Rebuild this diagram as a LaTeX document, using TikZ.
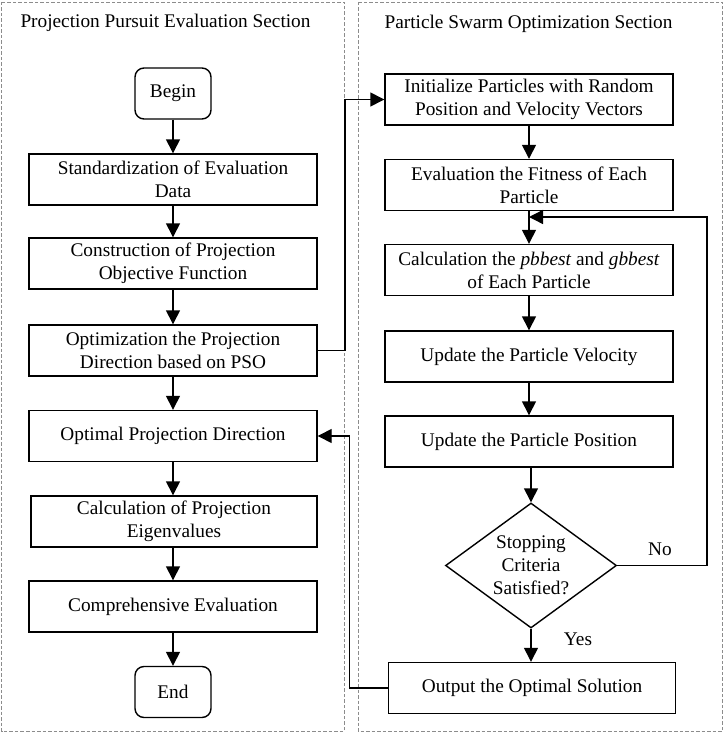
\documentclass[tikz,border=0pt]{standalone}
\usepackage{fontspec}
\setmainfont{Liberation Serif}
\usetikzlibrary{arrows.meta,shapes.geometric}
\begin{document}
\begin{tikzpicture}[x=1pt,y=-1pt,
  font=\fontsize{19.3pt}{23pt}\selectfont,
  frame/.style={draw=black!45,dashed,dash pattern=on 3.5pt off 2pt,line width=0.8pt},
  box/.style={draw,line width=1.4pt,minimum width=288pt,minimum height=51pt,inner sep=0pt,align=center},
  term/.style={draw,line width=1.4pt,rounded corners=9pt,minimum width=76pt,minimum height=51pt,inner sep=0pt},
  dec/.style={draw,line width=1.4pt,diamond,aspect=1.37,minimum width=171pt,minimum height=125pt,inner sep=0pt,align=center},
  arr/.style={line width=1.4pt,-{Triangle[length=14pt,width=14pt]}},
  ttl/.style={anchor=base}]
\useasboundingbox (0,0) rectangle (726,733);
\draw[frame] (1.5,2) rectangle (344,731);
\draw[frame] (358,2) rectangle (722.5,731);
\node[ttl] (t1) at (165.5,27.5) {Projection Pursuit Evaluation Section};
\node[ttl] (t2) at (528.5,28.5) {Particle Swarm Optimization Section};
% left column
\node[term] (begin) at (173,93.5) {Begin};
\node[box] (b1) at (173,179.5) {Standardization of Evaluation\\Data};
\node[box] (b2) at (173,263.5) {Construction of Projection\\Objective Function};
\node[box] (b3) at (173,350.5) {Optimization the Projection\\Direction based on PSO};
\node[box] (b4) at (173,436) {Optimal Projection Direction};
\node[box,minimum width=286pt] (b5) at (174,521.5) {Calculation of Projection\\Eigenvalues};
\node[box] (b6) at (173,606.5) {Comprehensive Evaluation};
\node[term] (end) at (173,692) {End};
% right column
\node[box] (r1) at (529,99.5) {Initialize Particles with Random\\Position and Velocity Vectors};
\node[box] (r2) at (529,185) {Evaluation the Fitness of Each\\Particle};
\node[box] (r3) at (529,270) {Calculation the \textit{pbbest} and \textit{gbbest}\\of Each Particle};
\node[box] (r4) at (529,356.5) {Update the Particle Velocity};
\node[box] (r5) at (529,441.5) {Update the Particle Position};
\node[dec] (dia) at (531,565.5) {Stopping\\Criteria\\Satisfied?};
\node[box,minimum width=287pt] (r6) at (532,688) {Output the Optimal Solution};
\node (no) at (660,549) {No};
\node (yes) at (578,639) {Yes};
% connectors
\draw[arr] (begin) -- (b1);
\draw[arr] (b1) -- (b2);
\draw[arr] (b2) -- (b3);
\draw[arr] (b3) -- (b4);
\draw[arr] (b4) -- (b5.north -| b4);
\draw[arr] (b5.south -| b4) -- (b6);
\draw[arr] (b6) -- (end);
\draw[arr] (r1) -- (r2);
\draw[arr] (r2) -- (r3);
\draw[arr] (r3) -- (r4);
\draw[arr] (r4) -- (r5);
\draw[arr] (r5.south -| dia) -- (dia);
\draw[arr] (dia) -- (dia |- r6.north);
\coordinate (j1) at (345,99.5);
\draw[arr] (b3.east) -| (j1) -- (r1.west);
\coordinate (j2) at (349.5,436);
\draw[arr] (r6.west) -| (j2) -- (b4.east);
\coordinate (lp) at (707,217);
\coordinate (lin) at (529,217);
\draw[arr] (dia.east) -| (lp) -- (lin);
\end{tikzpicture}
\end{document}
